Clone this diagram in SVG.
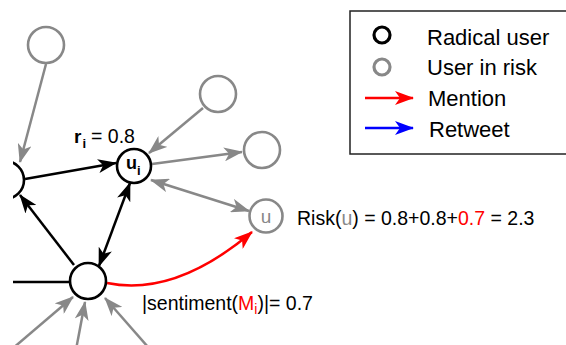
<svg xmlns="http://www.w3.org/2000/svg" width="566" height="345" viewBox="0 0 566 345">
<style>
text{font-family:"Liberation Sans",Arial,sans-serif;}
.gn{fill:#fff;stroke:#888;stroke-width:2.6;}
.bn{fill:#fff;stroke:#000;stroke-width:2.6;}
.ge{fill:none;stroke:#888;stroke-width:2.5;}
.be{fill:none;stroke:#000;stroke-width:2.5;}
.re{fill:none;stroke:#f00;stroke-width:2.5;}
.lbl{font-size:19.5px;fill:#000;}
.leg{font-size:22px;fill:#000;}
</style>
<defs>
<marker id="ag" markerUnits="userSpaceOnUse" markerWidth="19" markerHeight="14" refX="18" refY="7" orient="auto-start-reverse"><path d="M0,0 L19,7 L0,14 L5,7 Z" fill="#888"/></marker>
<marker id="ab" markerUnits="userSpaceOnUse" markerWidth="19" markerHeight="14" refX="18" refY="7" orient="auto-start-reverse"><path d="M0,0 L19,7 L0,14 L5,7 Z" fill="#000"/></marker>
<marker id="ar" markerUnits="userSpaceOnUse" markerWidth="19" markerHeight="14" refX="18" refY="7" orient="auto-start-reverse"><path d="M0,0 L19,7 L0,14 L5,7 Z" fill="#f00"/></marker>
<marker id="au" markerUnits="userSpaceOnUse" markerWidth="19" markerHeight="14" refX="18" refY="7" orient="auto-start-reverse"><path d="M0,0 L19,7 L0,14 L5,7 Z" fill="#00f"/></marker>
<clipPath id="clip"><rect x="13" y="0" width="553" height="345"/></clipPath>
</defs>
<g clip-path="url(#clip)">
<g id="connectors">
<path class="ge" d="M46,64 L20,162" marker-end="url(#ag)"/>
<path class="be" d="M25,179 L116,163" marker-end="url(#ab)"/>
<path class="be" d="M74,265 L20,195" marker-end="url(#ab)"/>
<path class="be" d="M99,266 L130,183" marker-start="url(#ab)" marker-end="url(#ab)"/>
<path class="be" d="M0,282 L69,282"/>
<path class="ge" d="M5,355 L73,297" marker-end="url(#ag)"/>
<path class="ge" d="M75,355 L85,302" marker-end="url(#ag)"/>
<path class="ge" d="M155,355 L105,298" marker-end="url(#ag)"/>
<path class="ge" d="M203,108 L149,153" marker-end="url(#ag)"/>
<path class="ge" d="M152,164 L242,152" marker-end="url(#ag)"/>
<path class="ge" d="M151,180 L249,211" marker-start="url(#ag)" marker-end="url(#ag)"/>
<path class="re" d="M107,283 Q175,297 252,232" marker-end="url(#ar)"/>
</g>
<g id="n_top"><circle class="gn" cx="46" cy="45" r="18"/></g>
<g id="n_tr"><circle class="gn" cx="218" cy="94" r="18"/></g>
<g id="n_r"><circle class="gn" cx="262" cy="150" r="18"/></g>
<g id="n_u"><circle class="gn" cx="266" cy="216" r="16.5"/><text x="266" y="223" font-size="19" fill="#888" text-anchor="middle">u</text></g>
<g id="n_ui"><circle class="bn" cx="134" cy="166" r="17"/><text x="126" y="169" font-size="18" font-weight="bold">u</text><text x="137" y="175" font-size="13" font-weight="bold">i</text></g>
<g id="n_left"><circle class="bn" cx="5" cy="180" r="19"/></g>
<g id="n_bottom"><circle class="bn" cx="88" cy="281" r="18"/></g>
</g>
<g id="labels">
<text x="74" y="143" font-size="19" font-weight="bold">r</text>
<text x="82.5" y="148" font-size="13" font-weight="bold">i</text>
<text x="91" y="143" font-size="19.5">= 0.8</text>
<text class="lbl" x="297" y="225">Risk(<tspan fill="#888">u</tspan>) = 0.8+0.8+<tspan fill="#f00">0.7</tspan> = 2.3</text>
<text class="lbl" x="142" y="310">|sentiment(<tspan fill="#f00">M</tspan><tspan fill="#f00" font-size="14" dy="4">i</tspan><tspan dy="-4">)|= 0.7</tspan></text>
</g>
<g id="legend">
<rect x="350" y="11" width="230" height="143" fill="#fff" stroke="#222" stroke-width="1.5"/>
<circle cx="382" cy="35" r="8" fill="none" stroke="#000" stroke-width="3.2"/>
<circle cx="382" cy="67" r="8" fill="none" stroke="#888" stroke-width="3.2"/>
<path d="M365,98 L413,98" stroke="#f00" stroke-width="2.5" marker-end="url(#ar)"/>
<path d="M365,128 L413,128" stroke="#00f" stroke-width="2.5" marker-end="url(#au)"/>
<text class="leg" x="427" y="45">Radical user</text>
<text class="leg" x="427" y="75">User in risk</text>
<text class="leg" x="428" y="106">Mention</text>
<text class="leg" x="429" y="137">Retweet</text>
</g>
</svg>
